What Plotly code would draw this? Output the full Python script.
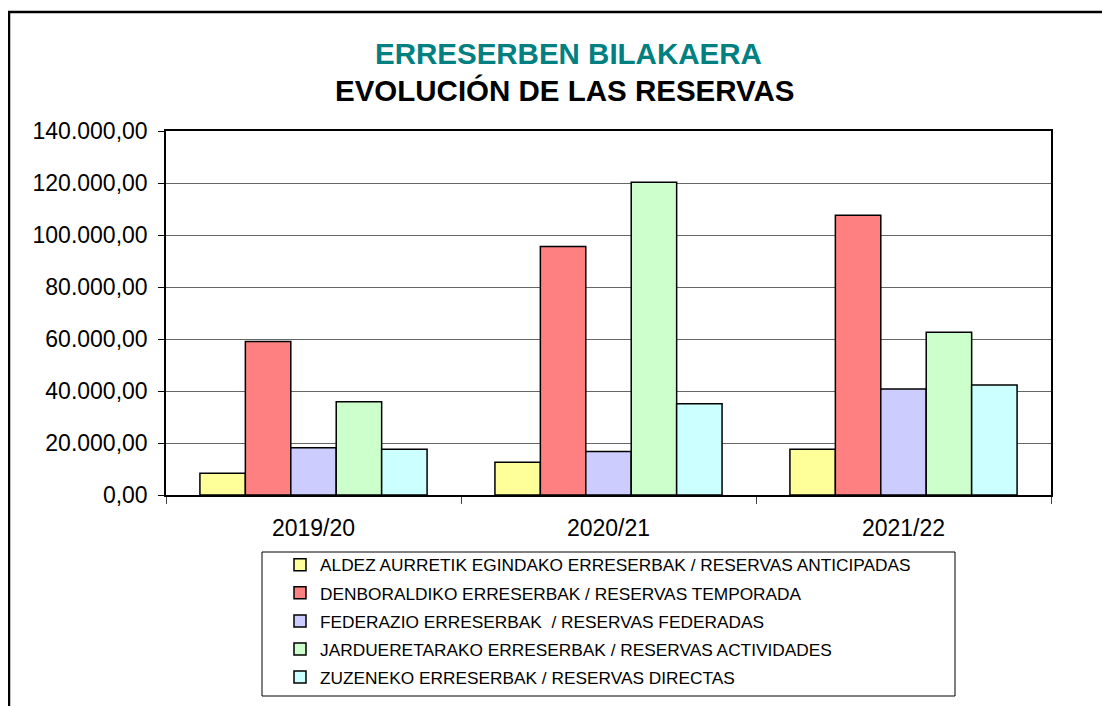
"""Evolución de las reservas (2019/20 - 2021/22)."""

import plotly.graph_objects as go

seasons = ['2019/20', '2020/21', '2021/22']

series_names = [
    'ALDEZ AURRETIK EGINDAKO ERRESERBAK / RESERVAS ANTICIPADAS',
    'DENBORALDIKO ERRESERBAK / RESERVAS TEMPORADA',
    'FEDERAZIO ERRESERBAK  / RESERVAS FEDERADAS',
    'JARDUERETARAKO ERRESERBAK / RESERVAS ACTIVIDADES',
    'ZUZENEKO ERRESERBAK / RESERVAS DIRECTAS',
]

anticipadas = [8400, 12600, 17600]
temporada = [59000, 95600, 107600]
federadas = [18200, 16700, 40800]
actividades = [35900, 120300, 62600]
directas = [17600, 35100, 42300]

y_ticks = [0, 20000, 40000, 60000, 80000, 100000, 120000, 140000]

colors = ['#FFFF99', '#FF8080', '#CCCCFF', '#CCFFCC', '#CCFFFF']
FONT = 'Arial, Liberation Sans, sans-serif'

# the page puts the figure 8px in from the corner; layout numbers below are
# page pixels, shifted back by OFF
OFF = 8
W, H = 1110, 706
L, R, T, B = 166 - OFF, 59 + OFF, 131 - OFF, 211 + OFF
PW, PH = W - L - R, H - T - B


def px(x):
    return (x - OFF - L) / PW


def py(y):
    return (H - B - (y - OFF)) / PH


fig = go.Figure()
for i, (name, vals, col) in enumerate(zip(
        series_names,
        [anticipadas, temporada, federadas, actividades, directas],
        colors)):
    fig.add_trace(go.Bar(x=seasons, y=vals, name=name, legendgroup=f'g{i}',
                         marker=dict(color=col, line=dict(color='black', width=1.5))))

fig.update_xaxes(
    showline=True, linecolor='black', linewidth=1.5, mirror=True,
    ticks='outside', tickson='boundaries', ticklen=7, tickcolor='#444444',
    ticklabelstandoff=12,
    tickfont=dict(family=FONT, size=23, color='black'),
)
fig.update_yaxes(
    range=[0, 140000], tickvals=y_ticks, tickformat=',.2f',
    showline=True, linecolor='black', linewidth=1.5, mirror=True,
    ticks='outside', ticklen=6, tickcolor='black',
    ticklabelstandoff=6,
    showgrid=True, gridcolor='#666666', gridwidth=1,
    zeroline=False,
    tickfont=dict(family=FONT, size=23, color='black'),
)

# outer chart frame and legend box
fig.add_shape(type='rect', xref='paper', yref='paper',
              x0=px(9), x1=px(1140), y0=py(740), y1=py(12),
              line=dict(color='black', width=2.5), layer='below')
fig.add_shape(type='rect', xref='paper', yref='paper',
              x0=px(262), x1=px(955), y0=py(696), y1=py(552),
              line=dict(color='black', width=1))

fig.add_annotation(text='<b>ERRESERBEN BILAKAERA</b>', xref='paper', yref='paper',
                   x=px(568), y=py(53), yanchor='middle', showarrow=False,
                   font=dict(family=FONT, size=29.5, color='#008080'))
fig.add_annotation(text='<b>EVOLUCIÓN DE LAS RESERVAS</b>', xref='paper', yref='paper',
                   x=px(565), y=py(91), yanchor='middle', showarrow=False,
                   font=dict(family=FONT, size=29.5, color='black'))

fig.update_layout(
    width=W, height=H,
    barmode='group', bargap=0.23, bargroupgap=0,
    separators=',.',
    plot_bgcolor='white', paper_bgcolor='white',
    margin=dict(l=L, r=R, t=T, b=B),
    showlegend=True,
    legend=dict(x=px(280), y=py(547), xanchor='left', yanchor='top',
                orientation='v', traceorder='grouped', tracegroupgap=2.6,
                font=dict(family=FONT, size=17.3, color='black'),
                bgcolor='rgba(0,0,0,0)', borderwidth=0),
)

fig.write_html("out.html")
